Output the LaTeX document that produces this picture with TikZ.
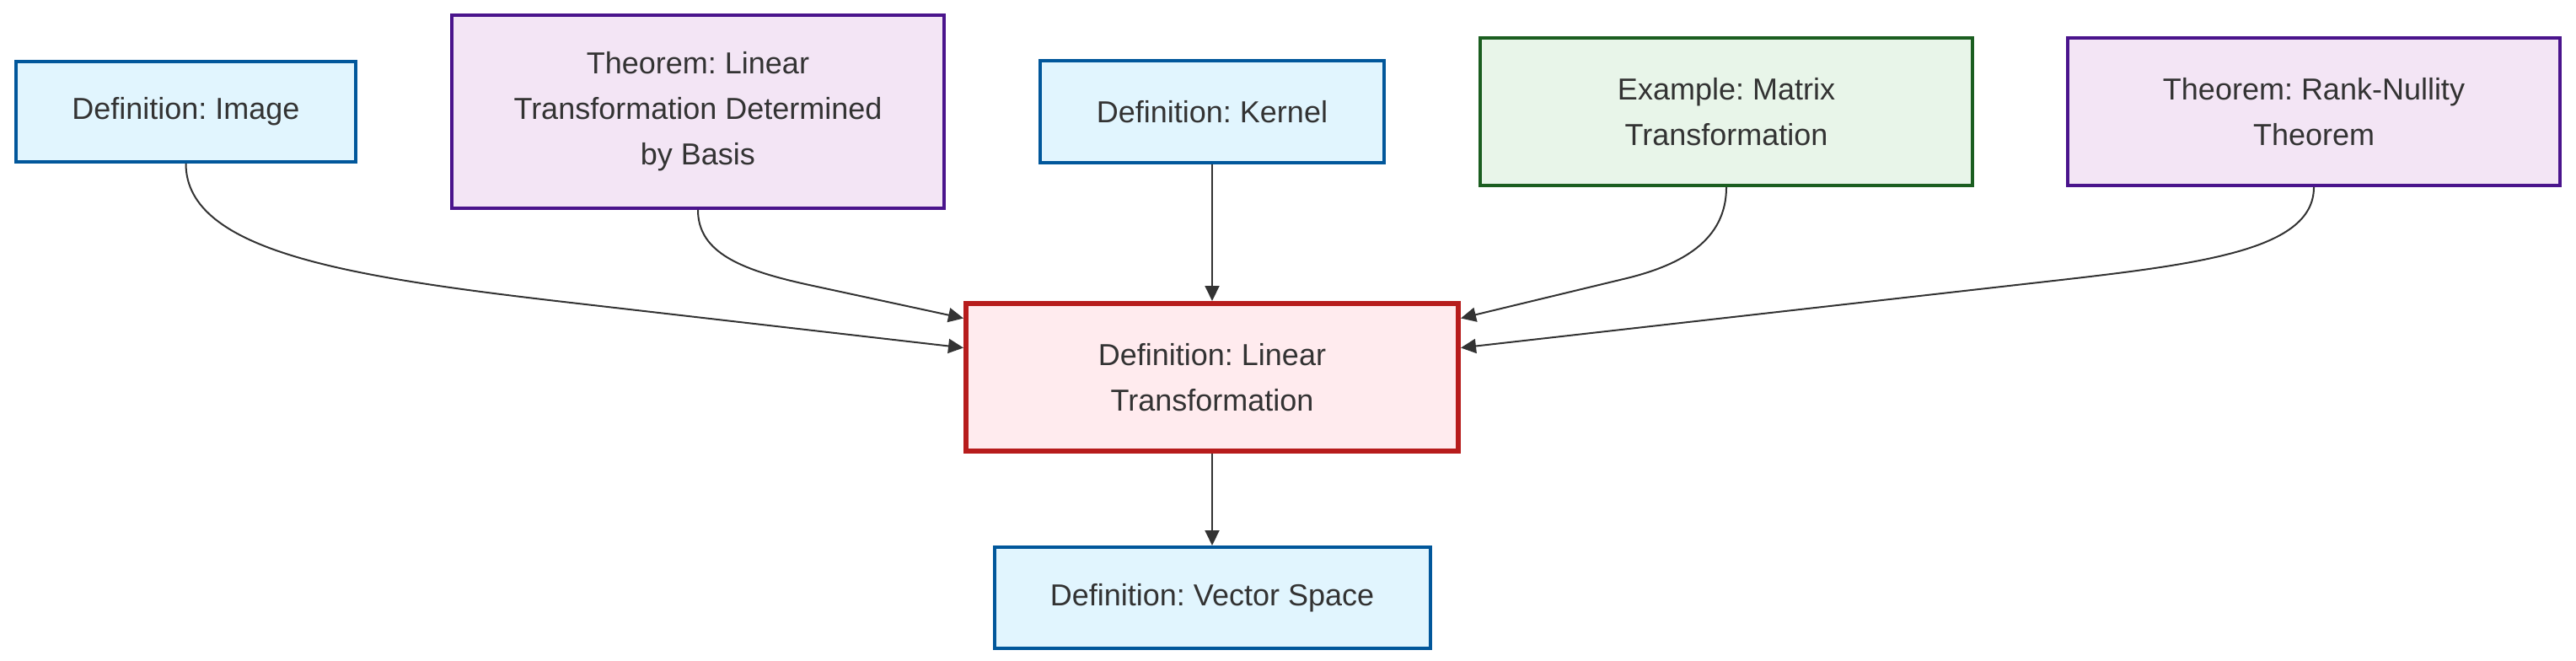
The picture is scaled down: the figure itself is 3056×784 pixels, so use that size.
\documentclass[tikz,border=0pt]{standalone}
\usepackage{fontspec}
\setmainfont{Liberation Sans}
\usetikzlibrary{arrows.meta,calc}
\definecolor{txt}{HTML}{333333}
\definecolor{bluefill}{HTML}{E1F5FE}
\definecolor{bluedraw}{HTML}{01579B}
\definecolor{purpfill}{HTML}{F3E5F5}
\definecolor{purpdraw}{HTML}{4A148C}
\definecolor{greenfill}{HTML}{E8F5E9}
\definecolor{greendraw}{HTML}{1B5E20}
\definecolor{redfill}{HTML}{FFEBEE}
\definecolor{reddraw}{HTML}{B71C1C}
\frenchspacing
\tikzset{
  box/.style={rectangle, inner sep=0pt, align=center, text=txt,
    font=\fontsize{36}{54}\selectfont\frenchspacing, line width=4pt},
  defbox/.style={box, fill=bluefill, draw=bluedraw},
  thmbox/.style={box, fill=purpfill, draw=purpdraw},
  exbox/.style={box, fill=greenfill, draw=greendraw},
  mainbox/.style={box, fill=redfill, draw=reddraw, line width=6pt},
  edge/.style={draw=txt, line width=2pt, -{Triangle[length=18pt,width=17pt]}}
}
\begin{document}
\begin{tikzpicture}[x=1pt,y=-1pt]
\useasboundingbox (0,0) rectangle (3056,784);
\node[defbox, minimum width=403pt, minimum height=119pt] (img) at (220.5,132.5) {Definition: Image};
\node[thmbox, minimum width=584pt, minimum height=229pt] (basis) at (828,132.5) {Theorem: Linear\\Transformation Determined\\by Basis};
\node[defbox, minimum width=408pt, minimum height=121pt] (kernel) at (1438,132.5) {Definition: Kernel};
\node[exbox, minimum width=584pt, minimum height=175pt] (example) at (2048,132.5) {Example: Matrix\\Transformation};
\node[thmbox, minimum width=584pt, minimum height=175pt] (rank) at (2745,132.5) {Theorem: Rank-Nullity\\Theorem};
\node[mainbox, minimum width=584pt, minimum height=175pt] (lt) at (1438,447.5) {Definition: Linear\\Transformation};
\node[defbox, minimum width=517pt, minimum height=120pt] (vs) at (1438,709) {Definition: Vector Space};

\coordinate (ltw1) at ($(lt.west)+(0,-35)$);
\coordinate (ltw2) at ($(lt.west)+(0,-70)$);
\coordinate (lte1) at ($(lt.east)+(0,-70)$);
\coordinate (lte2) at ($(lt.east)+(0,-35)$);

\draw[edge] (img.south) .. controls (220.5,300) and (420,329.5) .. (686,360) -- (ltw1);
\draw[edge] (basis.south) .. controls (828,300) and (880,320.5) .. (960,338) -- (ltw2);
\draw[edge] (kernel) -- (lt);
\draw[edge] (example.south) .. controls (2048,285) and (1995,314) .. (1930,330) -- (lte1);
\draw[edge] (rank.south) .. controls (2745,300) and (2600,314.5) .. (2401,337) -- (lte2);
\draw[edge] (lt) -- (vs);
\end{tikzpicture}
\end{document}
